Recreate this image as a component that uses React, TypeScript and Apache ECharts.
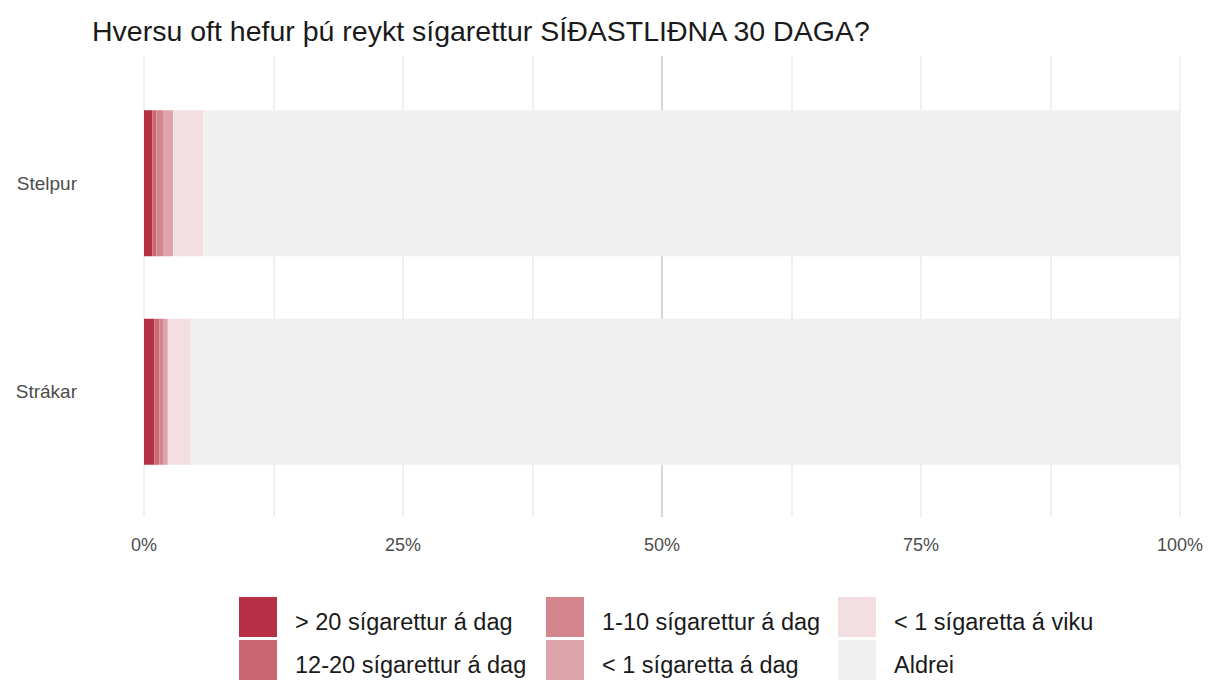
import React, { useEffect, useRef } from "react";
import * as echarts from "echarts";

const categories = ["Stelpur", "Strákar"];
const seriesNames = [
  "> 20 sígarettur á dag",
  "12-20 sígarettur á dag",
  "1-10 sígarettur á dag",
  "< 1 sígaretta á dag",
  "< 1 sígaretta á viku",
  "Aldrei",
];
const over20 = [0.8, 1.0];
const from12to20 = [0.4, 0.5];
const from1to10 = [0.7, 0.4];
const lessThan1Day = [0.9, 0.4];
const lessThan1Week = [2.9, 2.2];
const never = [94.3, 95.5];
const seriesValues = [over20, from12to20, from1to10, lessThan1Day, lessThan1Week, never];
const colors = ["#b52f45", "#c96873", "#d4858e", "#dda4ac", "#f3dfe2", "#f0f0f0"];
const tickLabels = ["0%", "25%", "50%", "75%", "100%"];

const FONT = "'Liberation Sans', Arial, sans-serif";

export default function App() {
  const ref = useRef<HTMLDivElement>(null);
  useEffect(() => {
    if (!ref.current) return;
    const chart = echarts.init(ref.current, undefined, { renderer: "svg" });
    const gridColors = ["#ebebeb", "#ebebeb", "#ebebeb", "#ebebeb", "#c8c8c8", "#ebebeb", "#ebebeb", "#ebebeb", "#ebebeb"];
    const legendBase = {
      orient: "vertical",
      top: 597,
      itemWidth: 38,
      itemHeight: 40,
      itemGap: 3,
      padding: 0,
      icon: "rect",
      selectedMode: false,
      formatter: "{t|{name}}",
      textStyle: {
        fontSize: 23.5,
        color: "#1a1a1a",
        fontFamily: FONT,
        padding: [0, 0, 0, 13],
        rich: {
          t: { fontSize: 23.5, color: "#1a1a1a", fontFamily: FONT, padding: [9, 0, 0, 0] },
        },
      },
    };
    chart.setOption({
      animation: false,
      backgroundColor: "#ffffff",
      title: {
        text: "Hversu oft hefur þú reykt sígarettur SÍÐASTLIÐNA 30 DAGA?",
        left: 87,
        top: 11,
        textStyle: { fontSize: 28.5, fontWeight: "normal", color: "#1a1a1a", fontFamily: FONT },
      },
      legend: [
        { ...legendBase, left: 239, data: [seriesNames[0], seriesNames[1]] },
        { ...legendBase, left: 546, data: [seriesNames[2], seriesNames[3]] },
        { ...legendBase, left: 838, data: [seriesNames[4], seriesNames[5]] },
      ],
      grid: [
        { left: 144, width: 1036, top: 56, height: 461 },
        { left: 144, width: 1036, top: 79, height: 417 },
      ],
      xAxis: [
        {
          gridIndex: 0,
          type: "value",
          min: 0,
          max: 100,
          interval: 12.5,
          axisLine: { show: false },
          axisTick: { show: false },
          splitLine: { show: true, lineStyle: { color: gridColors, width: 1.5 } },
          axisLabel: {
            margin: 19,
            fontSize: 18,
            color: "#4d4d4d",
            fontFamily: FONT,
            formatter: (v: number) => (v % 25 === 0 ? tickLabels[v / 25] : ""),
          },
        },
        {
          gridIndex: 1,
          type: "value",
          min: 0,
          max: 100,
          show: false,
          splitLine: { show: false },
        },
      ],
      yAxis: [
        {
          gridIndex: 0,
          type: "value",
          show: false,
          min: 0,
          max: 1,
          splitLine: { show: false },
        },
        {
          gridIndex: 1,
          type: "category",
          data: categories,
          inverse: true,
          axisLine: { show: false },
          axisTick: { show: false },
          splitLine: { show: false },
          axisLabel: { margin: 67, fontSize: 19, color: "#4d4d4d", fontFamily: FONT },
        },
      ],
      series: seriesNames.map((name, i) => ({
        name,
        type: "bar",
        stack: "total",
        xAxisIndex: 1,
        yAxisIndex: 1,
        barWidth: "70%",
        itemStyle: { color: colors[i] },
        data: seriesValues[i],
      })),
    });
    return () => chart.dispose();
  }, []);
  return <div ref={ref} style={{ position: "absolute", left: 0, top: 0, width: 1212, height: 681 }} />;
}
